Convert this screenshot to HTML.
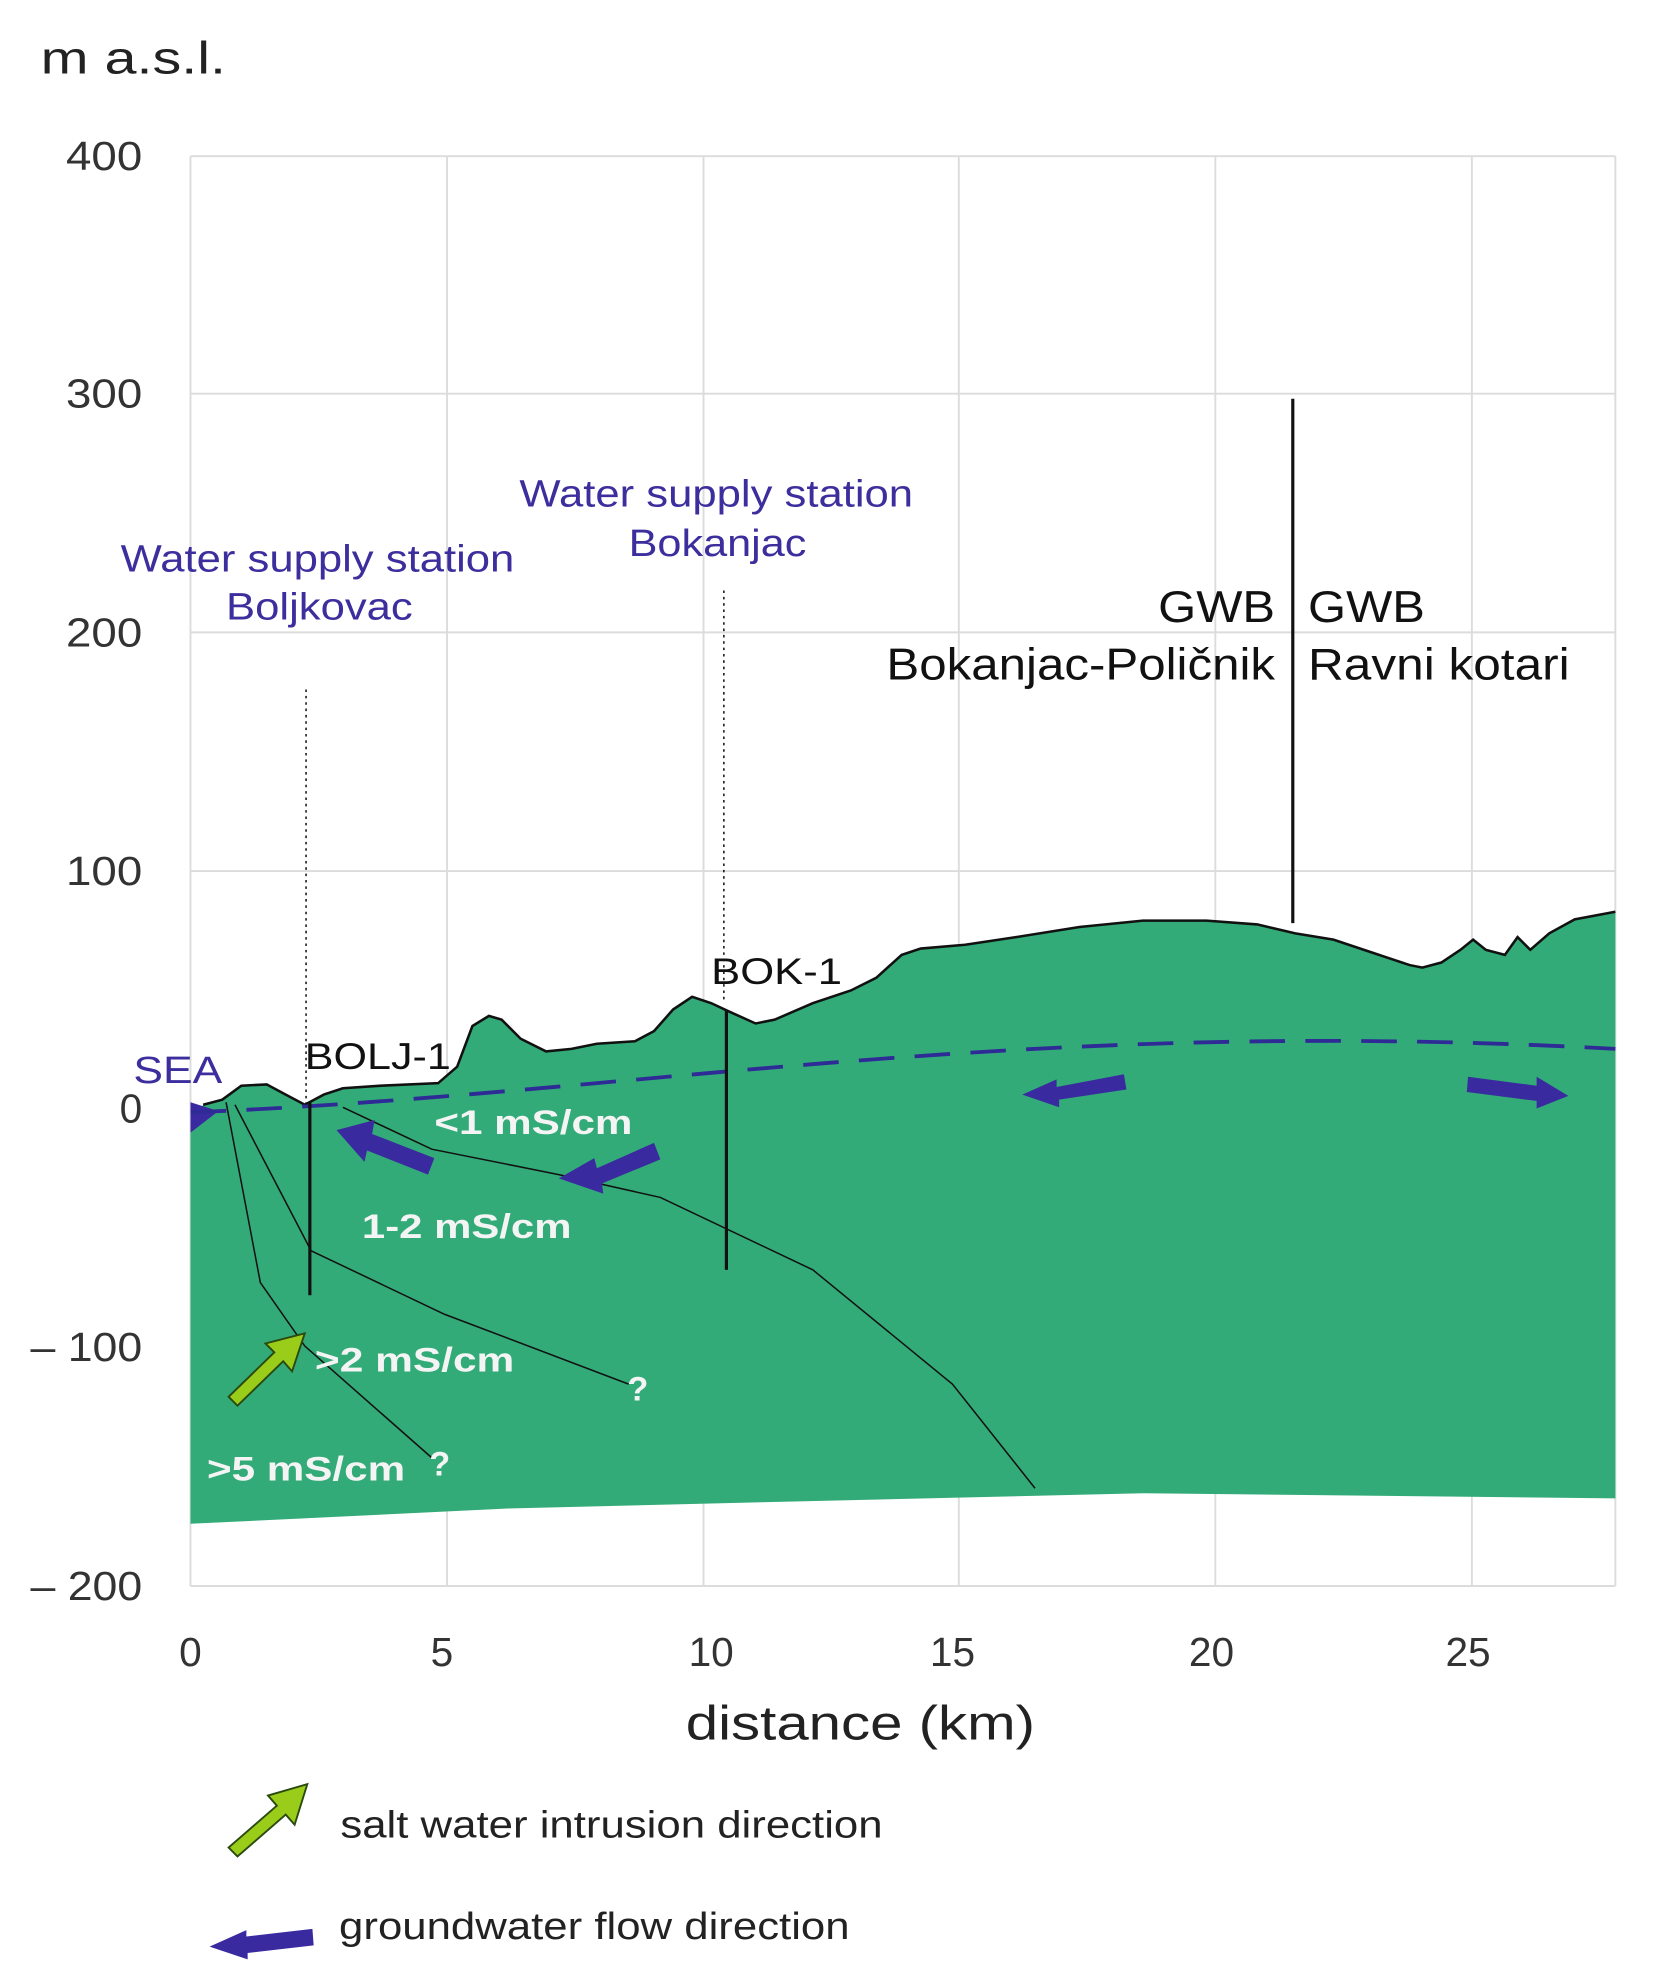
<!DOCTYPE html>
<html><head><meta charset="utf-8"><style>html,body{margin:0;padding:0;background:#fff}svg{display:block}</style></head>
<body>
<svg width="1656" height="1986" viewBox="0 0 1304 1564" preserveAspectRatio="none" xmlns="http://www.w3.org/2000/svg" font-family="Liberation Sans, sans-serif">
<g stroke="#dcdcdc" stroke-width="1.5" fill="none">
<line x1="150" y1="123" x2="1272" y2="123"/><line x1="150" y1="310" x2="1272" y2="310"/><line x1="150" y1="498" x2="1272" y2="498"/><line x1="150" y1="686" x2="1272" y2="686"/><line x1="150" y1="873" x2="1272" y2="873"/><line x1="150" y1="1061" x2="1272" y2="1061"/><line x1="150" y1="1249" x2="1272" y2="1249"/>
<line x1="150" y1="123" x2="150" y2="1249"/><line x1="352" y1="123" x2="352" y2="1249"/><line x1="554" y1="123" x2="554" y2="1249"/><line x1="755" y1="123" x2="755" y2="1249"/><line x1="957" y1="123" x2="957" y2="1249"/><line x1="1159" y1="123" x2="1159" y2="1249"/><line x1="1272" y1="123" x2="1272" y2="1249"/>
</g>
<g font-size="32" fill="#333" text-anchor="end">
<text x="112" y="134" textLength="60" lengthAdjust="spacingAndGlyphs">400</text><text x="112" y="321" textLength="60" lengthAdjust="spacingAndGlyphs">300</text><text x="112" y="509" textLength="60" lengthAdjust="spacingAndGlyphs">200</text><text x="112" y="697" textLength="60" lengthAdjust="spacingAndGlyphs">100</text><text x="112" y="884">0</text><text x="112" y="1072" textLength="88" lengthAdjust="spacingAndGlyphs">– 100</text><text x="112" y="1260" textLength="88" lengthAdjust="spacingAndGlyphs">– 200</text>
</g>
<g font-size="32" fill="#333" text-anchor="middle">
<text x="150" y="1312">0</text><text x="348" y="1312">5</text><text x="560" y="1312">10</text><text x="750" y="1312">15</text><text x="954" y="1312">20</text><text x="1156" y="1312">25</text>
</g>
<text x="540" y="1370" font-size="38" fill="#222" textLength="275" lengthAdjust="spacingAndGlyphs">distance (km)</text>
<text x="32" y="58" font-size="36" fill="#222" textLength="146" lengthAdjust="spacingAndGlyphs">m a.s.l.</text>
<path d="M150,885 L160,870 175,866 190,855 210,854 225,862 240,870 255,862 270,857 300,855 345,853 360,840 372,808 385,800 395,803 410,818 430,828 450,826 470,822 500,820 515,812 530,795 545,785 560,790 575,797 595,806 610,803 640,790 670,780 690,770 710,752 725,747 760,744 800,738 850,730 900,725 950,725 990,728 1020,735 1050,740 1080,750 1110,760 1120,762 1135,758 1150,748 1160,740 1170,748 1185,752 1195,738 1205,748 1220,735 1240,724 1272,718 L1272,1180 900,1176 600,1183 400,1188 150,1200 Z" fill="#33ab78" stroke="none"/>
<path d="M160,870 175,866 190,855 210,854 225,862 240,870 255,862 270,857 300,855 345,853 360,840 372,808 385,800 395,803 410,818 430,828 450,826 470,822 500,820 515,812 530,795 545,785 560,790 575,797 595,806 610,803 640,790 670,780 690,770 710,752 725,747 760,744 800,738 850,730 900,725 950,725 990,728 1020,735 1050,740 1080,750 1110,760 1120,762 1135,758 1150,748 1160,740 1170,748 1185,752 1195,738 1205,748 1220,735 1240,724 1272,718" fill="none" stroke="#111" stroke-width="2"/>
<path d="M150,868 L172,875 150,892 Z" fill="#3a2aa0"/>
<path d="M150,876 C500,862 800,800 1272,826" fill="none" stroke="#2e2a96" stroke-width="3" stroke-dasharray="28,16"/>
<g stroke="#111" fill="none" stroke-width="1.2">
<line x1="241" y1="543" x2="241" y2="870" stroke-dasharray="2,3"/>
<line x1="570" y1="465" x2="570" y2="790" stroke-dasharray="2,3"/>
<polyline points="270,872 340,905 440,925 520,943 640,1000 750,1090 815,1172"/>
<polyline points="185,870 245,985 350,1035 495,1090"/>
<polyline points="178,868 205,1010 240,1060 340,1148"/>
</g>
<g stroke="#111" stroke-width="2.5">
<line x1="244" y1="868" x2="244" y2="1020"/><line x1="572" y1="795" x2="572" y2="1000"/><line x1="1018" y1="314" x2="1018" y2="727"/>
</g>
<g fill="#3a2aa0">
<polygon points="265,890 295,882 293,893 342,912 337,925 289,906 287,915"/>
<polygon points="440,928 468,912 470,920 515,900 520,913 474,932 475,940"/>
<polygon points="805,862 832,850 832,856 885,846 887,858 834,866 834,872"/>
<polygon points="1235,863 1210,873 1210,867 1155,860 1156,848 1210,855 1210,848"/>
<polygon points="165,1533 194,1520 194,1525 246,1519 247,1532 195,1538 195,1543"/>
</g>
<g fill="#9acd1a" stroke="#2a4a10" stroke-width="1.5">
<polygon points="240,1050 230,1080 223,1072 187,1107 180,1100 216,1065 209,1058"/>
<polygon points="242,1405 232,1437 225,1429 187,1462 180,1455 218,1422 211,1414"/>
</g>
<g fill="#f4f4f4" font-size="27" font-weight="bold">
<text x="342" y="893" textLength="156" lengthAdjust="spacingAndGlyphs">&lt;1 mS/cm</text><text x="285" y="975" textLength="165" lengthAdjust="spacingAndGlyphs">1-2 mS/cm</text><text x="248" y="1080" textLength="157" lengthAdjust="spacingAndGlyphs">&gt;2 mS/cm</text><text x="163" y="1166" textLength="156" lengthAdjust="spacingAndGlyphs">&gt;5 mS/cm</text><text x="494" y="1103">?</text><text x="338" y="1162">?</text>
</g>
<g fill="#3d2e9e" font-size="30">
<text x="95" y="450" textLength="310" lengthAdjust="spacingAndGlyphs">Water supply station</text><text x="178" y="488" textLength="147" lengthAdjust="spacingAndGlyphs">Boljkovac</text>
<text x="409" y="399" textLength="310" lengthAdjust="spacingAndGlyphs">Water supply station</text><text x="495" y="438" textLength="140" lengthAdjust="spacingAndGlyphs">Bokanjac</text>
<text x="105" y="853" textLength="70" lengthAdjust="spacingAndGlyphs">SEA</text>
</g>
<g fill="#111" font-size="29">
<text x="240" y="842" textLength="115" lengthAdjust="spacingAndGlyphs">BOLJ-1</text><text x="560" y="775" textLength="103" lengthAdjust="spacingAndGlyphs">BOK-1</text>
</g>
<g fill="#111" font-size="35">
<text x="912" y="490" textLength="92" lengthAdjust="spacingAndGlyphs">GWB</text><text x="698" y="535" textLength="306" lengthAdjust="spacingAndGlyphs">Bokanjac-Poličnik</text>
<text x="1030" y="490" textLength="92" lengthAdjust="spacingAndGlyphs">GWB</text><text x="1030" y="535" textLength="206" lengthAdjust="spacingAndGlyphs">Ravni kotari</text>
</g>
<g fill="#222" font-size="30">
<text x="268" y="1447" textLength="427" lengthAdjust="spacingAndGlyphs">salt water intrusion direction</text><text x="267" y="1527" textLength="402" lengthAdjust="spacingAndGlyphs">groundwater flow direction</text>
</g>
</svg>
</body></html>
